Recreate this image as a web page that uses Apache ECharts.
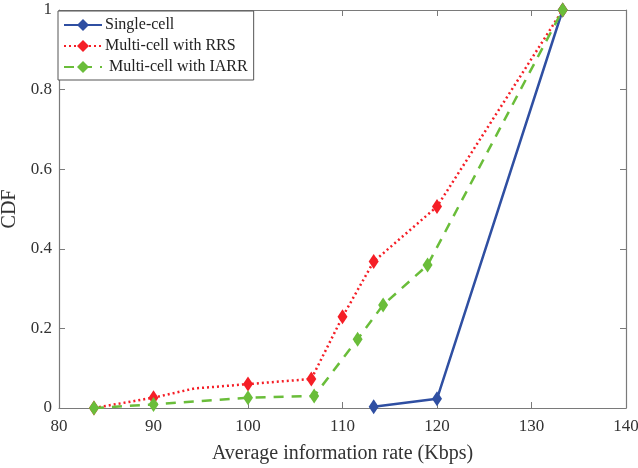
<!DOCTYPE html>
<html><head><meta charset="utf-8">
<script src="https://cdn.jsdelivr.net/npm/echarts@6/dist/echarts.min.js"></script>
<style>html,body{margin:0;padding:0;background:#fff}#c{width:638px;height:468px}</style>
</head><body><div id="c"></div>
<script>
const seriesNames = ['Single-cell', 'Multi-cell with RRS', ' Multi-cell with IARR'];
const singleX = [113.3, 120.0, 133.3];
const singleY = [0.003, 0.023, 1.0];
const rrsX = [83.7, 90.0, 94.3, 100.0, 106.7, 110.0, 113.3, 120.0, 133.3];
const rrsY = [0.0, 0.026, 0.049, 0.060, 0.073, 0.229, 0.368, 0.506, 1.0];
const rrsMarker = [1, 1, 0, 1, 1, 1, 1, 1, 1];
const iarrX = [83.7, 90.0, 100.0, 107.0, 111.6, 114.3, 119.0, 133.3];
const iarrY = [0.0, 0.009, 0.026, 0.030, 0.173, 0.259, 0.359, 1.0];
const xTicks = [80, 90, 100, 110, 120, 130, 140];
const yTicks = [0, 0.2, 0.4, 0.6, 0.8, 1];

const colors = ['#2f4fa2', '#f51e26', '#6abd3a'];
const font = 'Liberation Serif';

function pts(xs, ys, marks) {
  return xs.map((x, i) => {
    const it = { value: [x, ys[i]] };
    if (marks && !marks[i]) it.symbol = 'none';
    return it;
  });
}

const axisCommon = {
  axisLine: { show: true, onZero: false, lineStyle: { color: '#7a7a7a', width: 1.2 } },
  axisTick: { show: true, inside: true, length: 6, lineStyle: { color: '#7a7a7a' } },
  splitLine: { show: false },
};

const chart = echarts.init(document.getElementById('c'), null, { renderer: 'canvas' });
chart.setOption({
  animation: false,
  backgroundColor: '#fff',
  grid: { left: 59, right: 12, top: 10, bottom: 60, containLabel: false, outerBoundsMode: 'none' },
  legend: {
    left: 58, top: 11,
    orient: 'vertical',
    backgroundColor: '#fff',
    borderColor: '#555',
    borderWidth: 1,
    borderRadius: 0,
    padding: [6, 6, 5, 5],
    itemGap: 5,
    itemWidth: 38,
    itemHeight: 15,
    textStyle: { fontFamily: font, fontSize: 16, color: '#222', padding: [0, 0, 0, -2] },
    data: seriesNames,
  },
  xAxis: [
    Object.assign({}, axisCommon, {
      type: 'value', min: 80, max: 140, interval: 10, position: 'bottom',
      name: 'Average information rate (Kbps)', nameLocation: 'middle', nameGap: 36,
      nameTextStyle: { fontFamily: font, fontSize: 20, color: '#333' },
      axisLabel: { fontFamily: font, fontSize: 17, color: '#333', margin: 10,
        formatter: v => xTicks.includes(v) ? String(v) : '' },
    }),
    Object.assign({}, axisCommon, {
      type: 'value', min: 80, max: 140, interval: 10, position: 'top',
      axisLabel: { show: false },
    }),
  ],
  yAxis: [
    Object.assign({}, axisCommon, {
      type: 'value', min: 0, max: 1, interval: 0.2, position: 'left',
      name: 'CDF', nameLocation: 'middle', nameGap: 34, nameRotate: 90,
      nameTextStyle: { fontFamily: font, fontSize: 20, color: '#333' },
      axisLabel: { fontFamily: font, fontSize: 17, color: '#333', margin: 7,
        formatter: v => yTicks.some(t => Math.abs(t - v) < 1e-9) ? String(+v.toFixed(1)) : '' },
    }),
    Object.assign({}, axisCommon, {
      type: 'value', min: 0, max: 1, interval: 0.2, position: 'right',
      axisLabel: { show: false },
    }),
  ],
  series: [
    {
      name: seriesNames[0], type: 'line', data: pts(singleX, singleY),
      symbol: 'diamond', symbolSize: [10, 15], color: colors[0],
      lineStyle: { width: 2.5, type: 'solid', color: colors[0] },
      itemStyle: { color: colors[0] }, z: 3,
    },
    {
      name: seriesNames[1], type: 'line', data: pts(rrsX, rrsY, rrsMarker),
      symbol: 'diamond', symbolSize: [10, 15], color: colors[1],
      lineStyle: { width: 2.5, type: [2, 3], color: colors[1] },
      itemStyle: { color: colors[1] }, z: 4,
    },
    {
      name: seriesNames[2], type: 'line', data: pts(iarrX, iarrY),
      symbol: 'diamond', symbolSize: [10, 15], color: colors[2],
      lineStyle: { width: 2.5, type: [10, 8], color: colors[2] },
      itemStyle: { color: colors[2] }, z: 5,
    },
  ],
});
</script></body></html>
